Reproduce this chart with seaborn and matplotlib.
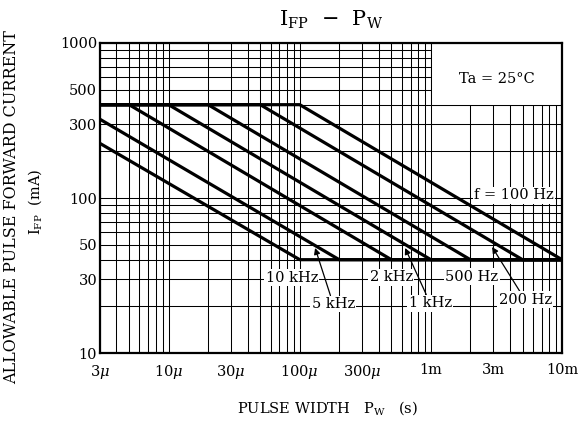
import matplotlib
matplotlib.use("Agg")
import matplotlib.pyplot as plt
import matplotlib.patches as patches
import numpy as np
import pandas as pd
import seaborn as sns

# pulse width (s) / allowable current (mA) vertices
labels = ["100 Hz", "200 Hz", "500 Hz", "1 kHz", "2 kHz", "5 kHz", "10 kHz"]
t_100 = [3e-6, 100e-6, 10e-3]
i_100 = [400, 400, 40]
t_200 = [3e-6, 50e-6, 5e-3, 10e-3]
i_200 = [400, 400, 40, 40]
t_500 = [3e-6, 20e-6, 2e-3, 10e-3]
i_500 = [400, 400, 40, 40]
t_1k = [3e-6, 10e-6, 1e-3, 10e-3]
i_1k = [400, 400, 40, 40]
t_2k = [3e-6, 5e-6, 500e-6, 10e-3]
i_2k = [400, 400, 40, 40]
t_5k = [3e-6, 200e-6, 10e-3]
i_5k = [322, 40, 40]
t_10k = [3e-6, 100e-6, 10e-3]
i_10k = [225, 40, 40]

xticks = [3e-6, 1e-5, 3e-5, 1e-4, 3e-4, 1e-3, 3e-3, 1e-2]
xticklabels = [r"3$\mu$", r"10$\mu$", r"30$\mu$", r"100$\mu$", r"300$\mu$", "1m", "3m", "10m"]
yticks = [10, 30, 50, 100, 300, 500, 1000]

ts = [t_100, t_200, t_500, t_1k, t_2k, t_5k, t_10k]
cs = [i_100, i_200, i_500, i_1k, i_2k, i_5k, i_10k]
rows = []
for lab, t, c in zip(labels, ts, cs):
    for k, (a, b) in enumerate(zip(t, c)):
        rows.append({"f": lab, "n": k, "t": a, "i": b})
df = pd.DataFrame(rows)

sns.set_style("white")
plt.rcParams["font.family"] = ["DejaVu Serif"]
plt.rcParams["mathtext.fontset"] = "dejavuserif"
plt.rcParams["text.color"] = "black"

fig = plt.figure(figsize=(5.81, 4.23), dpi=100)
ax = fig.add_axes([100 / 581, 1 - 353 / 423, 462 / 581, 310 / 423])
ax.set_xscale("log")
ax.set_yscale("log")

sns.lineplot(data=df, x="t", y="i", hue="f", palette=["black"] * 7,
             estimator=None, sort=False, legend=False, lw=2.3, ax=ax, zorder=3)

ax.set_xlim(3e-6, 1e-2)
ax.set_ylim(10, 1000)
ax.set_xticks(xticks)
ax.set_xticklabels(xticklabels)
ax.set_yticks(yticks)
ax.set_yticklabels([str(v) for v in yticks])
ax.tick_params(which="both", length=0, labelsize=10.5, colors="black")
ax.tick_params(axis="x", pad=7)
ax.tick_params(axis="y", pad=2)
ax.set_axisbelow(True)
ax.grid(which="both", color="black", lw=0.75)
for s in ax.spines.values():
    s.set_linewidth(1.6)
    s.set_color("black")
ax.set_xlabel("")
ax.set_ylabel("")

# Ta box
ax.add_patch(patches.Rectangle((1e-3, 400), 9e-3, 600, fc="white", ec="black",
                               lw=0.75, zorder=1))
ax.text(3.16e-3, 590, "Ta = 25°C", ha="center", va="center", fontsize=10.5, zorder=4)

box = dict(fc="white", ec="none", pad=1.0)
ax.text(4.31e-3, 104, "f = 100 Hz", ha="center", va="center", fontsize=10.5, bbox=box, zorder=4)
ax.text(87e-6, 30.5, "10 kHz", ha="center", va="center", fontsize=10.5, bbox=box, zorder=4)
ax.text(498e-6, 30.9, "2 kHz", ha="center", va="center", fontsize=10.5, bbox=box, zorder=4)
ax.text(2.06e-3, 31, "500 Hz", ha="center", va="center", fontsize=10.5, bbox=box, zorder=4)

arrow = dict(arrowstyle="-|>", color="black", lw=0.9, mutation_scale=9, shrinkA=0, shrinkB=0)
ax.annotate("5 kHz", xy=(131e-6, 47.6), xytext=(180e-6, 20.7), ha="center", va="center",
            fontsize=10.5, bbox=box, arrowprops=arrow, zorder=4)
ax.annotate("1 kHz", xy=(636e-6, 47.6), xytext=(987e-6, 21.0), ha="center", va="center",
            fontsize=10.5, bbox=box, arrowprops=arrow, zorder=4)
ax.annotate("200 Hz", xy=(2.93e-3, 48.3), xytext=(5.24e-3, 22), ha="center", va="center",
            fontsize=10.5, bbox=box, arrowprops=arrow, zorder=4)

fig.text(331 / 581, 1 - 20 / 423, r"I$_\mathrm{FP}$  $-$  P$_\mathrm{W}$", ha="center",
         va="center", fontsize=15)
fig.text(327 / 581, 1 - 408 / 423, r"PULSE WIDTH   P$_\mathrm{W}$   (s)", ha="center",
         va="center", fontsize=10.5)
fig.text(12 / 581, 1 - 207 / 423, "ALLOWABLE PULSE FORWARD CURRENT", rotation=90,
         ha="center", va="center", fontsize=11.5)
fig.text(35 / 581, 1 - 202 / 423, r"I$_\mathrm{FP}$  (mA)", rotation=90,
         ha="center", va="center", fontsize=10.5)

fig.savefig("out.png", dpi=100)
